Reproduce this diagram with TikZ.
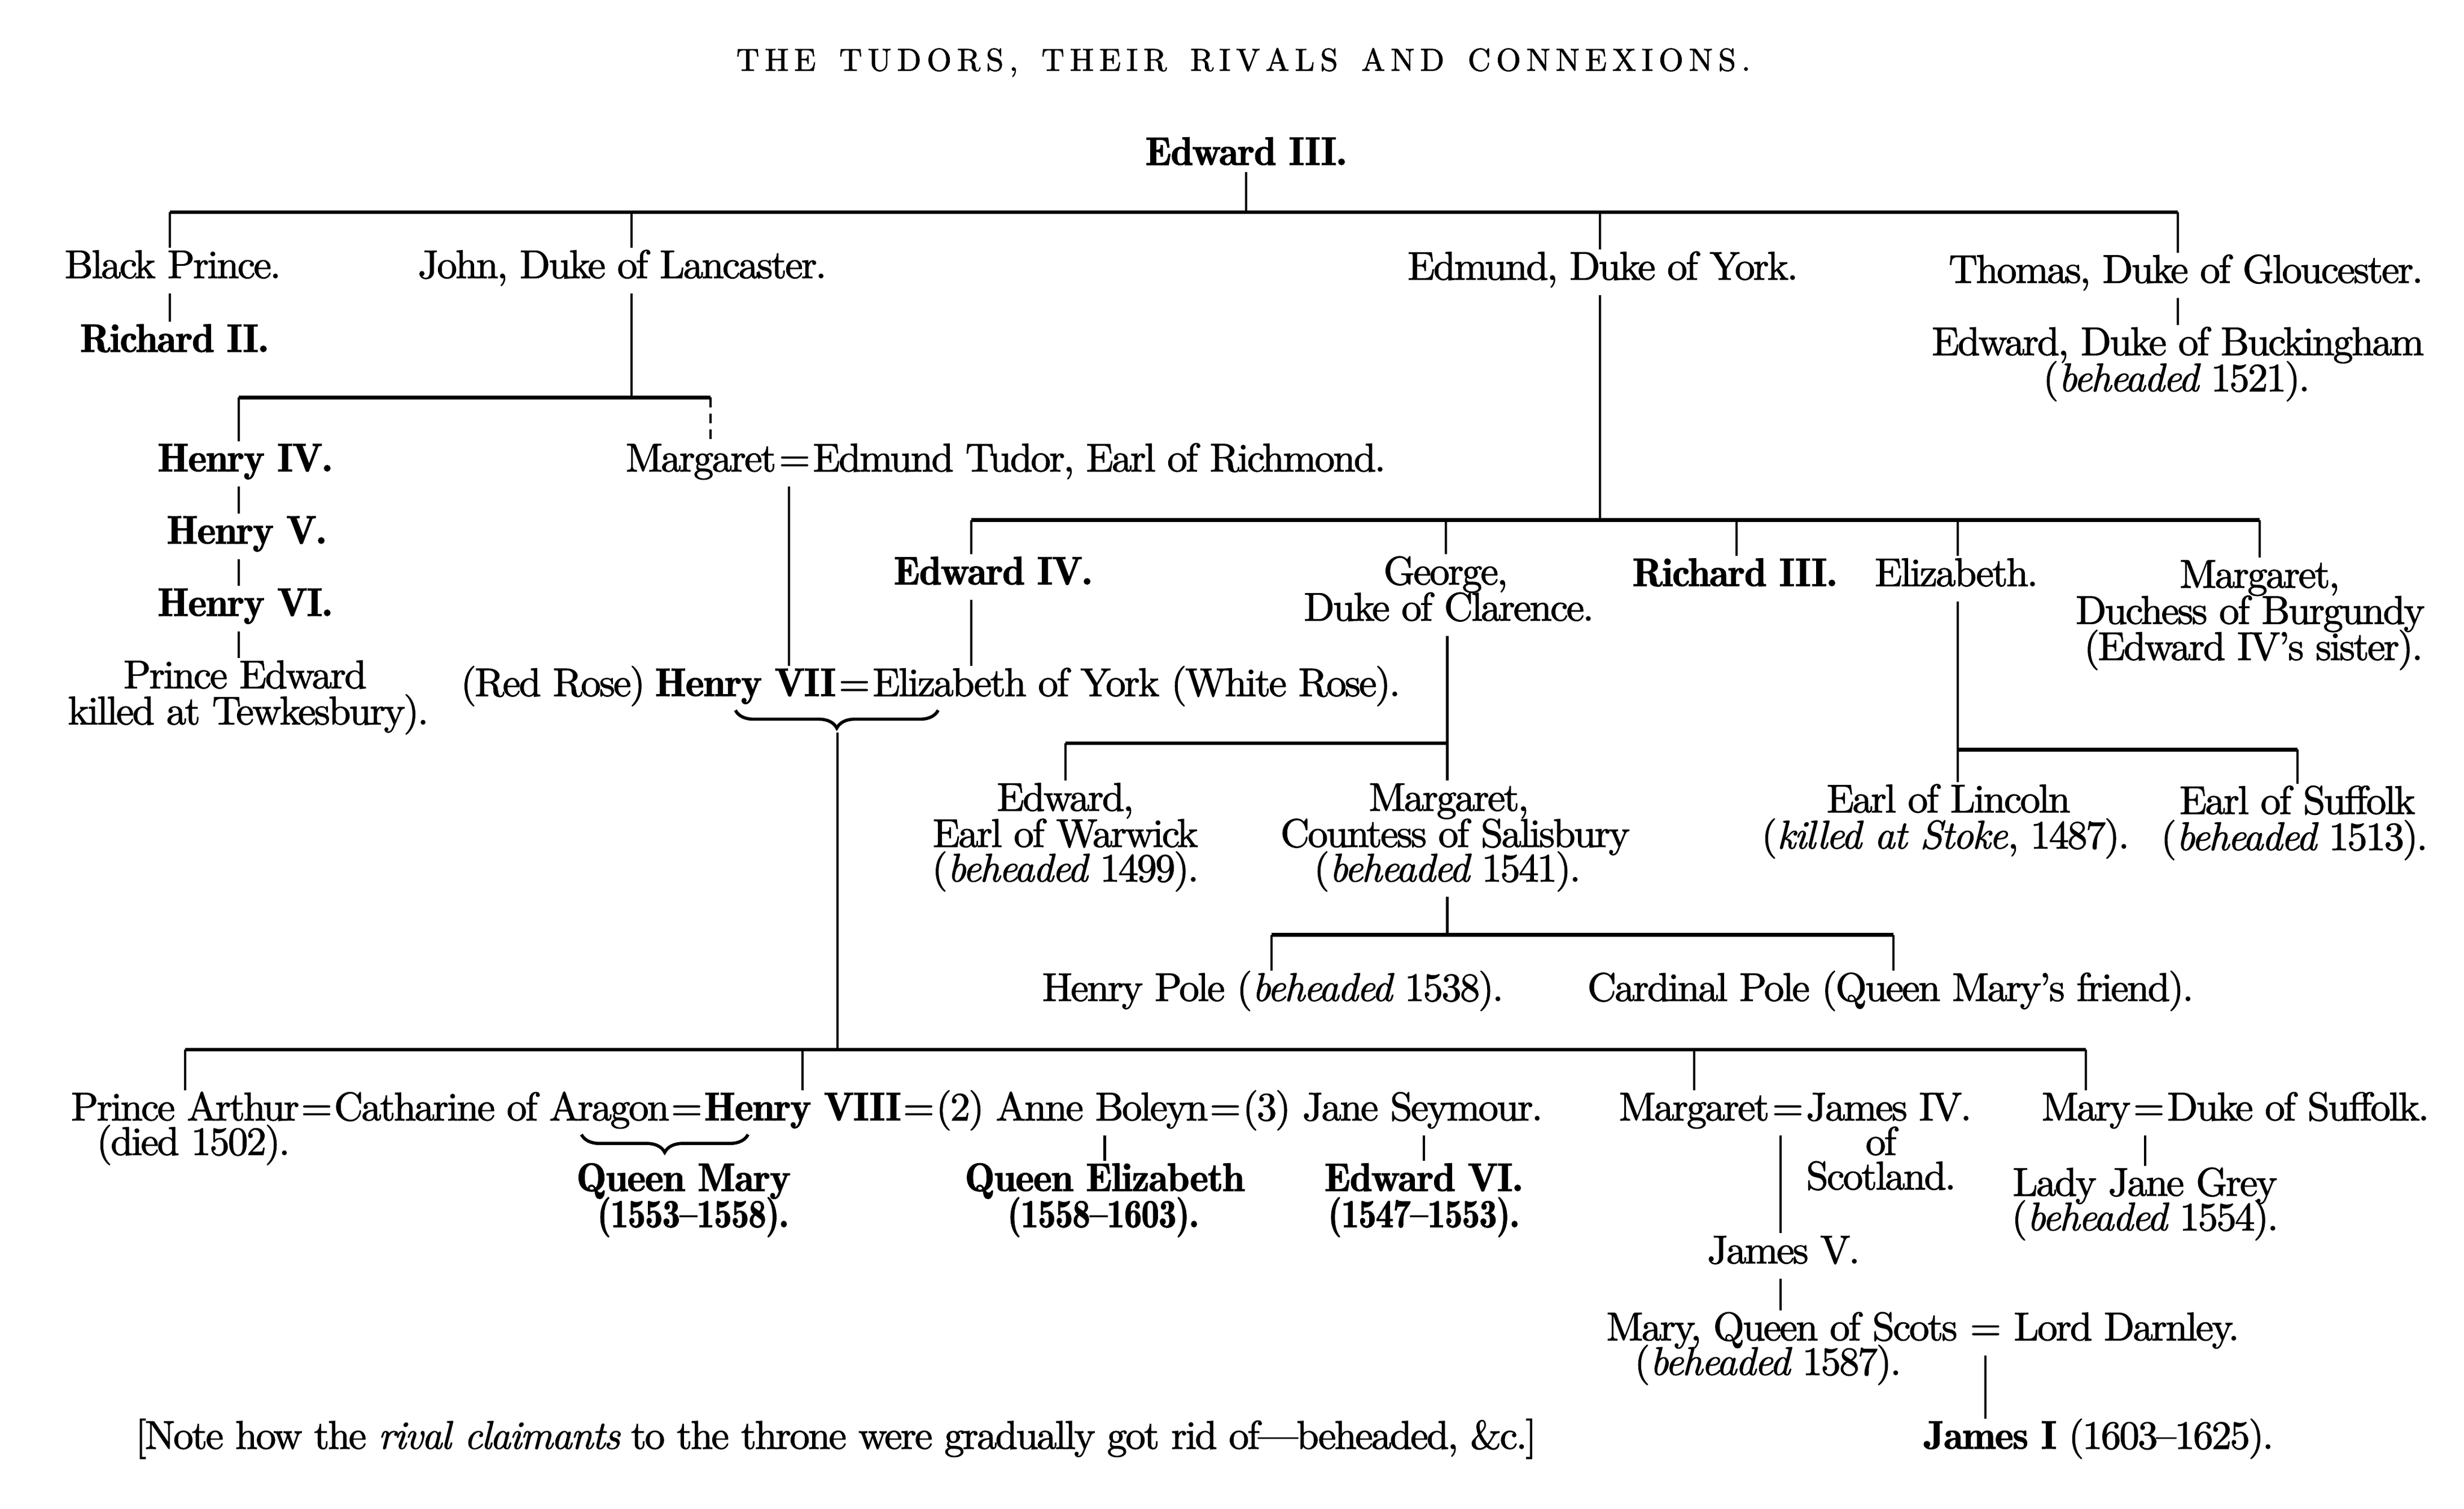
\documentclass[tikz,border=0pt]{standalone}
\usetikzlibrary{decorations.pathreplacing}
\DeclareFontFamily{TU}{lmx}{}
\DeclareFontShape{TU}{lmx}{m}{n}{<-> "[lmroman10-regular]:mapping=tex-text;embolden=1.5;letterspace=-4.0"}{}
\DeclareFontShape{TU}{lmx}{m}{it}{<-> "[lmroman10-italic]:mapping=tex-text;embolden=1.3;letterspace=-3.4"}{}
\DeclareFontShape{TU}{lmx}{b}{n}{<-> "[lmromandemi10-regular]:mapping=tex-text;embolden=1.1;letterspace=-2.2"}{}
\renewcommand\rmdefault{lmx}
\newcommand\nf{\fontsize{20.2}{24}\selectfont}
\newcommand\ttlf{\fontsize{16}{19}\selectfont}
\newcommand\bfs{\fontseries{b}\selectfont}
\newcommand\yrs[1]{\scalebox{0.9}[1]{#1}}
\makeatletter
\def\lsp#1{\lsp@a#1\relax}
\def\lsp@a#1{\ifx\relax#1\else#1\kern2.8pt\expandafter\lsp@a\fi}
\makeatother
\begin{document}
\begin{tikzpicture}[x=0.2784mm,y=-0.2784mm,
 t/.style={inner xsep=0pt,inner ysep=0pt,text height=13pt,text depth=3.5pt,anchor=base,font=\nf},
 bt/.style={t,font=\nf\bfs},
 tw/.style={t,anchor=base west},
 vl/.style={line width=1.15pt},
 tn/.style={vl,shorten >=2pt},
 fn/.style={vl,shorten <=4pt},
 nn/.style={vl,shorten >=2pt,shorten <=4pt},
 hl/.style={line width=1.9pt},
 brc/.style={decorate,decoration={brace,mirror,amplitude=9pt},line width=1.6pt}]
\useasboundingbox (0,0) rectangle (1568,960);
% title
\node[t,font=\ttlf] (title) at (793,45) {\lsp{THE}\hspace{9pt}\lsp{TUDORS,}\hspace{9pt}\lsp{THEIR}\hspace{9pt}\lsp{RIVALS}\hspace{9pt}\lsp{AND}\hspace{9pt}\lsp{CONNEXIONS.}};
\node[bt] (e3) at (793,105) {Edward III.};
% top bar
\coordinate (j0) at (793,135);
\coordinate (ba) at (108,135);
\coordinate (bb) at (402,135);
\coordinate (bc) at (1018,135);
\coordinate (bd) at (1386,135);
\draw[hl] (ba) -- (bd);
\draw[vl] (e3) -- (j0);
% row 1
\node[t] (bp) at (110,177) {Black Prince.};
\node[t] (jl) at (396,177) {John, Duke of Lancaster.};
\node[t] (ey) at (1020,178) {Edmund, Duke of York.};
\node[t] (tg) at (1391,180) {Thomas, Duke of Gloucester.};
\draw[tn] (ba) -- (ba |- bp.north);
\draw[tn] (bb) -- (bb |- jl.north);
\draw[tn] (bc) -- (bc |- ey.north);
\draw[tn] (bd) -- (bd |- tg.north);
\node[bt] (r2) at (111,224) {Richard II.};
\draw[nn] (ba |- bp.south) -- (ba |- r2.north);
\node[t] (buck) at (1386,226) {Edward, Duke of Buckingham};
\node[t] (buck2) at (1385,249) {(\textit{beheaded} 1521).};
\draw[nn] (bd |- tg.south) -- (bd |- buck.north);
% Lancaster
\coordinate (la) at (152,253);
\coordinate (lj) at (402,253);
\coordinate (lb) at (452,253);
\draw[hl] (la) -- (lb);
\draw[fn] (bb |- jl.south) -- (lj);
\node[bt] (h4) at (156,300) {Henry IV.};
\draw[tn] (la) -- (la |- h4.north);
\node[tw] (mg) at (398,300) {Margaret};
\node[tw] (eqa) at ([xshift=1pt]mg.base east) {=};
\node[tw] (et) at ([xshift=1pt]eqa.base east) {Edmund Tudor, Earl of Richmond.};
\draw[tn,dash pattern=on 5pt off 3pt] (lb) -- (lb |- mg.north);
\node[bt] (h5) at (157,346) {Henry V.};
\node[bt] (h6) at (156,392) {Henry VI.};
\node[t] (pe) at (156,438) {Prince Edward};
\node[t] (pe2) at (158,461) {killed at Tewkesbury).};
\draw[nn] (la |- h4.south) -- (la |- h5.north);
\draw[nn] (la |- h5.south) -- (la |- h6.north);
\draw[nn] (la |- h6.south) -- (la |- pe.north);
% Henry VII
\node[tw] (rr) at (293,443) {(Red Rose)};
\node[tw,font=\nf\bfs] (h7) at ([xshift=4.5pt]rr.base east) {Henry VII};
\node[tw] (eqb) at ([xshift=1pt]h7.base east) {=};
\node[tw] (eoy) at ([xshift=1pt]eqb.base east) {Elizabeth of York (White Rose).};
\coordinate (xa) at (502,0);
\draw[nn] (et.south -| xa) -- (h7.north -| xa);
\coordinate (bl1) at (468,452);
\coordinate (br1) at (597,452);
\draw[brc] (bl1) -- (br1);
\coordinate (tp1) at (533,466);
\coordinate (bbm) at (533,668);
\draw[vl] (tp1) -- (bbm);
% York
\coordinate (ya) at (618,331);
\coordinate (yb) at (920,331);
\coordinate (yc) at (1105,331);
\coordinate (yd) at (1246,331);
\coordinate (ye) at (1438,331);
\coordinate (yj) at (1018,331);
\draw[hl] (ya) -- (ye);
\draw[fn] (bc |- ey.south) -- (yj);
\node[bt] (e4) at (632,372) {Edward IV.};
\node[t] (gc) at (920,372) {George,};
\node[t] (gc2) at (922,395) {Duke of Clarence.};
\node[bt] (r3) at (1104,373) {Richard III.};
\node[t] (el) at (1245,373) {Elizabeth.};
\node[t] (mb) at (1438,374) {Margaret,};
\node[t] (mb2) at (1432,397) {Duchess of Burgundy};
\node[t] (mb3) at (1434,420) {(Edward IV’s sister).};
\draw[tn] (ya) -- (ya |- e4.north);
\draw[tn] (yb) -- (yb |- gc.north);
\draw[tn] (yc) -- (yc |- r3.north);
\draw[tn] (yd) -- (yd |- el.north);
\draw[tn] (ye) -- (ye |- mb.north);
\coordinate (xb) at (618,0);
\draw[nn] (e4.south -| xb) -- (eoy.north -| xb);
% Clarence
\coordinate (ca) at (678,473);
\coordinate (cb) at (921,473);
\draw[hl] (ca) -- (cb);
\draw[fn] (cb |- gc2.south) -- (cb);
\node[t] (ew) at (678,516) {Edward,};
\node[t] (ew2) at (678,539) {Earl of Warwick};
\node[t] (ew3) at (678,561) {(\textit{beheaded} 1499).};
\node[t] (ms) at (922,516) {Margaret,};
\node[t] (ms2) at (926,539) {Countess of Salisbury};
\node[t] (ms3) at (921,561) {(\textit{beheaded} 1541).};
\draw[tn] (ca) -- (ca |- ew.north);
\draw[tn] (cb) -- (cb |- ms.north);
\coordinate (pa1) at (809,595);
\coordinate (pj) at (921,595);
\coordinate (pb) at (1205,595);
\draw[hl] (pa1) -- (pb);
\draw[fn] (cb |- ms3.south) -- (pj);
\node[t] (hp) at (810,637) {Henry Pole (\textit{beheaded} 1538).};
\node[t] (cp) at (1203,637) {Cardinal Pole (Queen Mary’s friend).};
\draw[tn] (pa1) -- (pa1 |- hp.north);
\draw[tn] (pb) -- (pb |- cp.north);
% Elizabeth's children
\coordinate (ea) at (1246,477);
\coordinate (eb) at (1462,477);
\draw[hl] (ea) -- (eb);
\draw[fn] (yd |- el.south) -- (ea);
\node[t] (li) at (1240,517) {Earl of Lincoln};
\node[t] (li2) at (1238,540) {(\textit{killed at Stoke}, 1487).};
\node[t] (sf) at (1462,518) {Earl of Suffolk};
\node[t] (sf2) at (1460,541) {(\textit{beheaded} 1513).};
\draw[tn] (ea) -- (ea |- li.north);
\draw[tn] (eb) -- (eb |- sf.north);
% bottom row
\node[tw] (pa) at (45,713) {Prince Arthur};
\node[tw] (eqc) at ([xshift=0.5pt]pa.base east) {=};
\node[tw] (ca2) at ([xshift=0.5pt]eqc.base east) {Catharine of Aragon};
\node[tw] (eqd) at ([xshift=0.5pt]ca2.base east) {=};
\node[tw,font=\nf\bfs] (h8) at ([xshift=0.5pt]eqd.base east) {Henry VIII};
\node[tw] (eqe) at ([xshift=0.5pt]h8.base east) {=};
\node[tw] (ab) at ([xshift=0.5pt]eqe.base east) {(2) Anne Boleyn};
\node[tw] (eqf) at ([xshift=0.5pt]ab.base east) {=};
\node[tw] (js) at ([xshift=0.5pt]eqf.base east) {(3) Jane Seymour.};
\node[tw] (mj) at (1030,713) {Margaret};
\node[tw] (eqg) at ([xshift=1pt]mj.base east) {=};
\node[tw] (j4) at ([xshift=1pt]eqg.base east) {James IV.};
\node[tw] (my) at (1299,713) {Mary};
\node[tw] (eqi) at ([xshift=1pt]my.base east) {=};
\node[tw] (ds) at ([xshift=1pt]eqi.base east) {Duke of Suffolk.};
\draw[hl] (pa.north |- bbm) -- (my.north |- bbm);
\draw[tn] (pa.north |- bbm) -- (pa.north);
\draw[tn] (h8.north |- bbm) -- (h8.north);
\draw[tn] (mj.north |- bbm) -- (mj.north);
\draw[tn] (my.north |- bbm) -- (my.north);
\node[t] (pa2) at (123,735) {(died 1502).};
\coordinate (bl2) at (370,722);
\coordinate (br2) at (476,722);
\draw[brc] (bl2) -- (br2);
\node[bt] (qm) at (435,758) {Queen Mary};
\node[bt] (qm2) at (441,781) {\yrs{(1553–1558).}};
\node[bt] (qe) at (703,758) {Queen Elizabeth};
\node[bt] (qe2) at (702,781) {\yrs{(1558–1603).}};
\draw[nn] (qe.north |- ab.south) -- (qe.north);
\node[bt] (e6) at (906,758) {Edward VI.};
\node[bt] (e62) at (906,781) {\yrs{(1547–1553).}};
\draw[nn] (e6.north |- js.south) -- (e6.north);
% Scotland
\node[t] (j4b) at (1197,735) {of};
\node[t] (j4c) at (1197,757) {Scotland.};
\node[t] (j5) at (1135,804) {James V.};
\coordinate (xc) at (1133,0);
\draw[nn] (mj.south -| xc) -- (j5.north -| xc);
\node[tw] (mq) at (1022,853) {Mary, Queen of Scots};
\node[tw] (eqh) at ([xshift=6pt]mq.base east) {=};
\node[tw] (ld) at ([xshift=6pt]eqh.base east) {Lord Darnley.};
\draw[nn] (j5.south -| xc) -- (mq.north -| xc);
\node[t] (mq2) at (1125,875) {(\textit{beheaded} 1587).};
\node[tw] (ji) at (1224,922) {{\bfs James I} (1603–1625).};
\draw[nn] (eqh.south) -- (eqh.south |- ji.north);
% Suffolk
\node[t] (ljg) at (1365,761) {Lady Jane Grey};
\node[t] (ljg2) at (1365,783) {(\textit{beheaded} 1554).};
\coordinate (xd) at (1365,0);
\draw[nn] (my.south -| xd) -- (ljg.north -| xd);
% note
\node[t] (note) at (532,922) {[Note how the \textit{rival claimants} to the throne were gradually got rid of\textemdash beheaded, \&c.]};
\end{tikzpicture}
\end{document}
